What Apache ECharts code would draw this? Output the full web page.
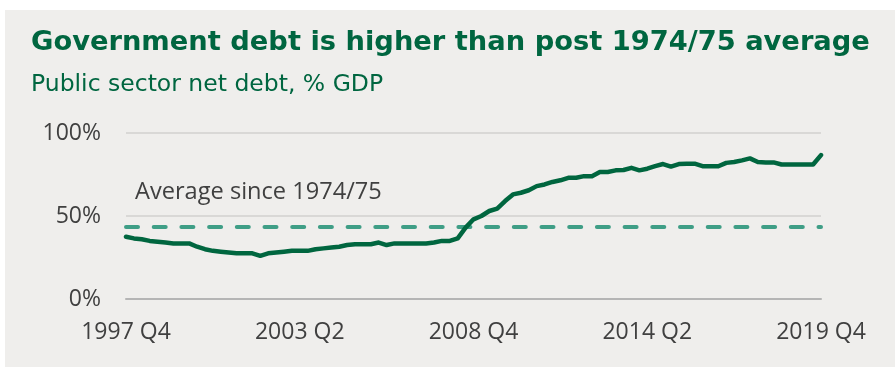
<!DOCTYPE html>
<html>
<head>
<meta charset="utf-8">
<script src="https://cdn.jsdelivr.net/npm/echarts@6/dist/echarts.min.js"></script>
<style>
html,body{margin:0;padding:0;background:#fff;}
#chart{width:895px;height:367px;}
</style>
</head>
<body>
<div id="chart"></div>
<script>
// Quarterly categories 1997 Q4 .. 2019 Q4
const quarters = [];
for (let y = 1997; y <= 2019; y++) {
  for (let q = 1; q <= 4; q++) {
    if (y === 1997 && q < 4) continue;
    quarters.push(y + ' Q' + q);
  }
}
// Public sector net debt, % GDP
const debtValues = [
  37.5, 36.5, 36, 35, 34.5, 34, 33.5, 33.5, 33.5, 31.5,
  30, 29, 28.5, 28, 27.5, 27.5, 27.5, 26, 27.5, 28,
  28.5, 29, 29, 29, 30, 30.5, 31, 31.5, 32.5, 33,
  33, 33, 34, 32.5, 33.5, 33.5, 33.5, 33.5, 33.5, 34,
  35, 35, 36.5, 43, 48, 50, 53, 54.5, 59, 63,
  64, 65.5, 68, 69, 70.5, 71.5, 73, 73, 74, 74,
  76.5, 76.5, 77.5, 77.7, 79, 77.5, 78.5, 80, 81.3, 79.8,
  81.3, 81.5, 81.5, 80, 80, 80, 82, 82.5, 83.5, 84.7,
  82.5, 82.3, 82.3, 81, 81, 81, 81, 81, 86.7
];
const averageValue = 43.4;
const averageValues = quarters.map(() => averageValue);

const titleText = 'Government debt is higher than post 1974/75 average';
const subtitleText = 'Public sector net debt, % GDP';
const averageLabel = 'Average since 1974/75';

const chart = echarts.init(document.getElementById('chart'), null, {renderer: 'canvas'});
chart.setOption({
  backgroundColor: '#ffffff',
  animation: false,
  graphic: [
    {type: 'rect', left: 5, top: 10, z: -10, shape: {width: 890, height: 357}, style: {fill: '#efeeec'}},
    {type: 'text', left: 135, top: 180, z: 10,
     style: {text: averageLabel, font: '23.6px "Open Sans"', fill: '#404040'}}
  ],
  title: [
    {text: titleText, left: 31, top: 27, padding: 0,
     textStyle: {fontFamily: 'DejaVu Sans', fontWeight: 'bold', fontSize: 27.3, lineHeight: 32, color: '#006640'}},
    {text: subtitleText, left: 31, top: 71, padding: 0,
     textStyle: {fontFamily: 'DejaVu Sans', fontWeight: 'normal', fontSize: 23.5, lineHeight: 28, color: '#006640'}}
  ],
  grid: {left: 126, right: 74, top: 133, bottom: 68, containLabel: false},
  xAxis: {
    type: 'category',
    data: quarters,
    boundaryGap: false,
    axisLine: {show: true, lineStyle: {color: '#b5b5b5', width: 2}},
    axisTick: {show: false},
    axisLabel: {interval: 21, color: '#404040', fontFamily: 'Open Sans', fontSize: 23, margin: 22},
    splitLine: {show: false}
  },
  yAxis: {
    type: 'value',
    min: 0, max: 100, interval: 50,
    axisLine: {show: false},
    axisTick: {show: false},
    axisLabel: {formatter: '{value}%', color: '#404040', fontFamily: 'Open Sans', fontSize: 23, margin: 25},
    splitLine: {lineStyle: {color: '#d9d8d6', width: 2}}
  },
  series: [
    {
      name: 'Average', type: 'line', data: averageValues, symbol: 'none',
      lineStyle: {color: '#3f9e86', width: 4, type: [12, 15.7], cap: 'round'},
      z: 2
    },
    {
      name: 'PSND', type: 'line', data: debtValues, symbol: 'none',
      lineStyle: {color: '#00663f', width: 4.5, join: 'round', cap: 'round'},
      z: 3
    }
  ]
});
</script>
</body>
</html>
